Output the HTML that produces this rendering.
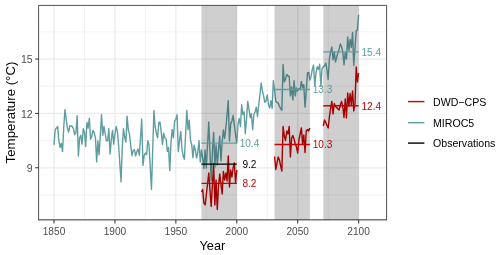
<!DOCTYPE html>
<html><head><meta charset="utf-8"><title>Temperature</title>
<style>html,body{margin:0;padding:0;background:#fff}svg{display:block}text{font-family:"Liberation Sans",sans-serif}</style>
</head><body>
<svg width="500" height="255" viewBox="0 0 500 255">
<rect width="500" height="255" fill="#fff"/>
<rect x="38.6" y="5.4" width="348.0" height="214.6" fill="#fff"/>
<line x1="38.6" x2="386.6" y1="194.93" y2="194.93" stroke="#ebebeb" stroke-width="0.65"/>
<line x1="38.6" x2="386.6" y1="140.58" y2="140.58" stroke="#ebebeb" stroke-width="0.65"/>
<line x1="38.6" x2="386.6" y1="86.22" y2="86.22" stroke="#ebebeb" stroke-width="0.65"/>
<line x1="38.6" x2="386.6" y1="31.87" y2="31.87" stroke="#ebebeb" stroke-width="0.65"/>
<line y1="5.4" y2="220.0" x1="84.46" x2="84.46" stroke="#ebebeb" stroke-width="0.65"/>
<line y1="5.4" y2="220.0" x1="145.39" x2="145.39" stroke="#ebebeb" stroke-width="0.65"/>
<line y1="5.4" y2="220.0" x1="206.32" x2="206.32" stroke="#ebebeb" stroke-width="0.65"/>
<line y1="5.4" y2="220.0" x1="267.25" x2="267.25" stroke="#ebebeb" stroke-width="0.65"/>
<line y1="5.4" y2="220.0" x1="328.18" x2="328.18" stroke="#ebebeb" stroke-width="0.65"/>
<line x1="38.6" x2="386.6" y1="167.75" y2="167.75" stroke="#ebebeb" stroke-width="1.25"/>
<line x1="38.6" x2="386.6" y1="113.40" y2="113.40" stroke="#ebebeb" stroke-width="1.25"/>
<line x1="38.6" x2="386.6" y1="59.05" y2="59.05" stroke="#ebebeb" stroke-width="1.25"/>
<line y1="5.4" y2="220.0" x1="54.00" x2="54.00" stroke="#ebebeb" stroke-width="1.25"/>
<line y1="5.4" y2="220.0" x1="114.93" x2="114.93" stroke="#ebebeb" stroke-width="1.25"/>
<line y1="5.4" y2="220.0" x1="175.86" x2="175.86" stroke="#ebebeb" stroke-width="1.25"/>
<line y1="5.4" y2="220.0" x1="236.78" x2="236.78" stroke="#ebebeb" stroke-width="1.25"/>
<line y1="5.4" y2="220.0" x1="297.71" x2="297.71" stroke="#ebebeb" stroke-width="1.25"/>
<line y1="5.4" y2="220.0" x1="358.64" x2="358.64" stroke="#ebebeb" stroke-width="1.25"/>
<g fill="none" stroke-linejoin="round" stroke-linecap="butt" stroke-width="1.4">
<polyline stroke="#cd0000" points="201.45,192.0 202.66,189.5 203.88,203.0 205.10,205.0 206.32,195.0 207.54,184.0 208.76,173.0 209.98,190.0 211.19,206.5 212.41,185.0 213.63,163.5 214.85,205.0 216.07,180.0 217.29,209.5 218.51,186.0 219.72,174.0 220.94,184.0 222.16,194.0 223.38,171.5 224.60,180.0 225.82,173.0 227.04,181.0 228.25,156.0 229.47,187.0 230.69,170.0 231.91,177.0 233.13,168.0 234.35,163.0 235.57,183.0 236.78,170.0"/>
<polyline stroke="#cd0000" points="274.56,156.5 275.78,169.5 277.00,163.0 278.22,157.0 279.43,160.0 280.65,166.0 281.87,171.0 283.09,126.5 284.31,136.0 285.53,140.5 286.74,131.0 287.96,134.0 289.18,126.5 290.40,157.0 291.62,138.0 292.84,135.5 294.06,139.0 295.27,144.0 296.49,147.0 297.71,153.0 298.93,140.0 300.15,134.0 301.37,128.0 302.59,144.0 303.80,135.0 305.02,152.5 306.24,131.0 307.46,129.5 308.68,131.0 309.90,128.0"/>
<polyline stroke="#cd0000" points="323.30,126.0 324.52,120.0 325.74,122.5 326.96,125.5 328.18,128.0 329.39,117.0 330.61,108.0 331.83,101.5 333.05,114.0 334.27,103.5 335.49,106.5 336.71,107.5 337.92,109.0 339.14,110.0 340.36,104.5 341.58,101.5 342.80,107.0 344.02,117.5 345.24,99.0 346.45,118.0 347.67,93.0 348.89,106.0 350.11,93.5 351.33,105.0 352.55,91.0 353.77,111.0 354.98,104.0 356.20,67.0 357.42,82.0 358.64,73.0"/>
<polyline stroke="#5f9ea0" points="54.00,144.9 55.22,129.6 56.44,128.0 57.66,126.4 58.87,140.9 60.09,147.3 61.31,143.3 62.53,151.6 63.75,127.0 64.97,109.6 66.19,119.3 67.40,128.1 68.62,132.1 69.84,125.7 71.06,126.0 72.28,126.5 73.50,128.9 74.72,134.5 75.93,132.9 77.15,115.6 78.37,156.1 79.59,138.0 80.81,135.3 82.03,144.1 83.25,128.8 84.46,132.0 85.68,146.5 86.90,122.4 88.12,128.0 89.34,118.2 90.56,139.3 91.78,136.0 92.99,130.4 94.21,132.9 95.43,137.7 96.65,162.0 97.87,140.9 99.09,154.8 100.31,135.0 101.52,114.5 102.74,135.3 103.96,126.4 105.18,133.7 106.40,140.9 107.62,140.9 108.84,128.8 110.05,154.0 111.27,140.0 112.49,130.4 113.71,144.1 114.93,134.0 116.15,126.4 117.37,131.2 118.58,145.0 119.80,163.0 121.02,181.8 122.24,148.0 123.46,128.8 124.68,137.0 125.90,142.0 127.11,116.1 128.33,129.8 129.55,134.6 130.77,145.9 131.99,155.5 133.21,150.7 134.42,149.6 135.64,155.8 136.86,151.5 138.08,149.1 139.30,155.2 140.52,137.9 141.74,119.3 142.95,165.4 144.17,155.5 145.39,153.1 146.61,154.7 147.83,140.6 149.05,145.0 150.27,168.0 151.48,189.5 152.70,150.0 153.92,110.4 155.14,127.0 156.36,133.0 157.58,137.8 158.80,122.5 160.01,122.2 161.23,132.1 162.45,144.3 163.67,133.2 164.89,137.9 166.11,139.0 167.33,151.5 168.54,147.5 169.76,170.6 170.98,142.7 172.20,129.5 173.42,137.9 174.64,120.9 175.86,119.3 177.07,114.8 178.29,151.5 179.51,141.0 180.73,131.4 181.95,149.0 183.17,156.0 184.39,159.3 185.60,135.0 186.82,110.4 188.04,129.7 189.26,120.1 190.48,140.3 191.70,144.3 192.92,157.6 194.13,145.1 195.35,149.9 196.57,158.0 197.79,152.3 199.01,140.6 200.23,162.0 201.45,150.0 202.66,158.0 203.88,168.5 205.10,150.0 206.32,168.0 207.54,145.0 208.76,122.0 209.98,152.0 211.19,181.0 212.41,152.0 213.63,132.5 214.85,167.0 216.07,145.0 217.29,165.0 218.51,150.0 219.72,136.3 220.94,161.0 222.16,142.0 223.38,130.0 224.60,138.5 225.82,128.0 227.04,115.0 228.25,100.8 229.47,141.0 230.69,124.0 231.91,121.0 233.13,115.5 234.35,125.0 235.57,135.0 236.78,143.0 238.00,124.1 239.22,118.5 240.44,126.5 241.66,104.8 242.88,114.5 244.10,112.0 245.31,133.7 246.53,119.0 247.75,101.5 248.97,108.8 250.19,117.7 251.41,113.7 252.63,129.7 253.84,114.5 255.06,112.0 256.28,107.2 257.50,116.5 258.72,105.0 259.94,94.3 261.16,83.0 262.37,91.0 263.59,95.9 264.81,102.3 266.03,101.0 267.25,95.0 268.47,104.8 269.69,108.0 270.90,100.7 272.12,108.5 273.34,80.6 274.56,90.3 275.78,101.5 277.00,102.3 278.22,103.1 279.43,106.3 280.65,108.5 281.87,110.3 283.09,64.5 284.31,82.0 285.53,79.0 286.74,74.5 287.96,76.0 289.18,76.5 290.40,95.9 291.62,87.0 292.84,99.9 294.06,80.6 295.27,95.9 296.49,87.9 297.71,91.0 298.93,88.7 300.15,89.5 301.37,81.4 302.59,87.9 303.80,84.6 305.02,107.1 306.24,91.0 307.46,73.0 308.68,72.4 309.90,80.0 311.12,76.4 312.33,69.2 313.55,65.2 314.77,85.6 315.99,73.0 317.21,66.8 318.43,69.5 319.65,64.2 320.86,86.4 322.08,68.4 323.30,66.8 324.52,65.6 325.74,63.2 326.96,70.0 328.18,79.3 329.39,59.0 330.61,52.0 331.83,47.0 333.05,59.8 334.27,51.9 335.49,62.0 336.71,57.0 337.92,52.7 339.14,49.0 340.36,44.0 341.58,47.0 342.80,51.9 344.02,64.7 345.24,52.7 346.45,59.1 347.67,37.0 348.89,50.3 350.11,39.5 351.33,47.5 352.55,32.5 353.77,65.5 354.98,48.0 356.20,30.9 357.42,30.1 358.64,14.8"/>
</g>
<rect x="201.45" y="5.4" width="35.34" height="214.6" fill="#000" fill-opacity="0.19"/>
<rect x="274.56" y="5.4" width="35.34" height="214.6" fill="#000" fill-opacity="0.19"/>
<rect x="323.30" y="5.4" width="35.34" height="214.6" fill="#000" fill-opacity="0.19"/>
<line x1="201.45" x2="236.78" y1="143.15" y2="143.15" stroke="#5f9ea0" stroke-width="1.4"/>
<line x1="201.45" x2="236.78" y1="164.1" y2="164.1" stroke="#000" stroke-width="1.4"/>
<line x1="201.45" x2="236.78" y1="183.4" y2="183.4" stroke="#cd0000" stroke-width="1.4"/>
<line x1="274.56" x2="309.90" y1="89.5" y2="89.5" stroke="#5f9ea0" stroke-width="1.4"/>
<line x1="274.56" x2="309.90" y1="144.5" y2="144.5" stroke="#cd0000" stroke-width="1.4"/>
<line x1="323.30" x2="358.64" y1="51.9" y2="51.9" stroke="#5f9ea0" stroke-width="1.4"/>
<line x1="323.30" x2="358.64" y1="105.8" y2="105.8" stroke="#cd0000" stroke-width="1.4"/>
<text x="249.47" y="146.95" font-size="10.1" fill="#5f9ea0" text-anchor="middle">10.4</text>
<text x="249.47" y="167.90" font-size="10.1" fill="#000" text-anchor="middle">9.2</text>
<text x="249.47" y="187.20" font-size="10.1" fill="#cd0000" text-anchor="middle">8.2</text>
<text x="322.58" y="93.30" font-size="10.1" fill="#5f9ea0" text-anchor="middle">13.3</text>
<text x="322.58" y="148.30" font-size="10.1" fill="#cd0000" text-anchor="middle">10.3</text>
<text x="371.33" y="55.70" font-size="10.1" fill="#5f9ea0" text-anchor="middle">15.4</text>
<text x="371.33" y="109.60" font-size="10.1" fill="#cd0000" text-anchor="middle">12.4</text>
<path d="M38.6 219.85H386.6" stroke="#333" stroke-width="1.0" fill="none"/>
<path d="M38.6 220.3V5.4H386.6V220.3" stroke="#333" stroke-width="0.85" fill="none" stroke-linejoin="miter"/>
<line x1="35.2" x2="38.6" y1="167.75" y2="167.75" stroke="#333" stroke-width="1.05"/>
<text x="32.6" y="171.85" font-size="10.5" fill="#4d4d4d" text-anchor="end">9</text>
<line x1="35.2" x2="38.6" y1="113.40" y2="113.40" stroke="#333" stroke-width="1.05"/>
<text x="32.6" y="117.50" font-size="10.5" fill="#4d4d4d" text-anchor="end">12</text>
<line x1="35.2" x2="38.6" y1="59.05" y2="59.05" stroke="#333" stroke-width="1.05"/>
<text x="32.6" y="63.15" font-size="10.5" fill="#4d4d4d" text-anchor="end">15</text>
<line y1="220.0" y2="223.6" x1="54.00" x2="54.00" stroke="#333" stroke-width="1.05"/>
<text x="54.00" y="234.7" font-size="10.15" fill="#4d4d4d" text-anchor="middle">1850</text>
<line y1="220.0" y2="223.6" x1="114.93" x2="114.93" stroke="#333" stroke-width="1.05"/>
<text x="114.93" y="234.7" font-size="10.15" fill="#4d4d4d" text-anchor="middle">1900</text>
<line y1="220.0" y2="223.6" x1="175.86" x2="175.86" stroke="#333" stroke-width="1.05"/>
<text x="175.86" y="234.7" font-size="10.15" fill="#4d4d4d" text-anchor="middle">1950</text>
<line y1="220.0" y2="223.6" x1="236.78" x2="236.78" stroke="#333" stroke-width="1.05"/>
<text x="236.78" y="234.7" font-size="10.15" fill="#4d4d4d" text-anchor="middle">2000</text>
<line y1="220.0" y2="223.6" x1="297.71" x2="297.71" stroke="#333" stroke-width="1.05"/>
<text x="297.71" y="234.7" font-size="10.15" fill="#4d4d4d" text-anchor="middle">2050</text>
<line y1="220.0" y2="223.6" x1="358.64" x2="358.64" stroke="#333" stroke-width="1.05"/>
<text x="358.64" y="234.7" font-size="10.15" fill="#4d4d4d" text-anchor="middle">2100</text>
<text x="212.4" y="249.7" font-size="12.7" fill="#000" text-anchor="middle">Year</text>
<text transform="translate(14.6,112.5) rotate(-90)" font-size="13.25" fill="#000" text-anchor="middle">Temperature (°C)</text>
<line x1="408" x2="424.4" y1="101.6" y2="101.6" stroke="#cd0000" stroke-width="1.4"/>
<text x="433" y="105.7" font-size="10.6" fill="#000">DWD−CPS</text>
<line x1="408" x2="424.4" y1="122.7" y2="122.7" stroke="#5f9ea0" stroke-width="1.4"/>
<text x="433" y="126.5" font-size="10.6" fill="#000">MIROC5</text>
<line x1="408" x2="424.4" y1="143.1" y2="143.1" stroke="#000" stroke-width="1.4"/>
<text x="433" y="147.2" font-size="10.6" fill="#000">Observations</text>
</svg>
</body></html>
